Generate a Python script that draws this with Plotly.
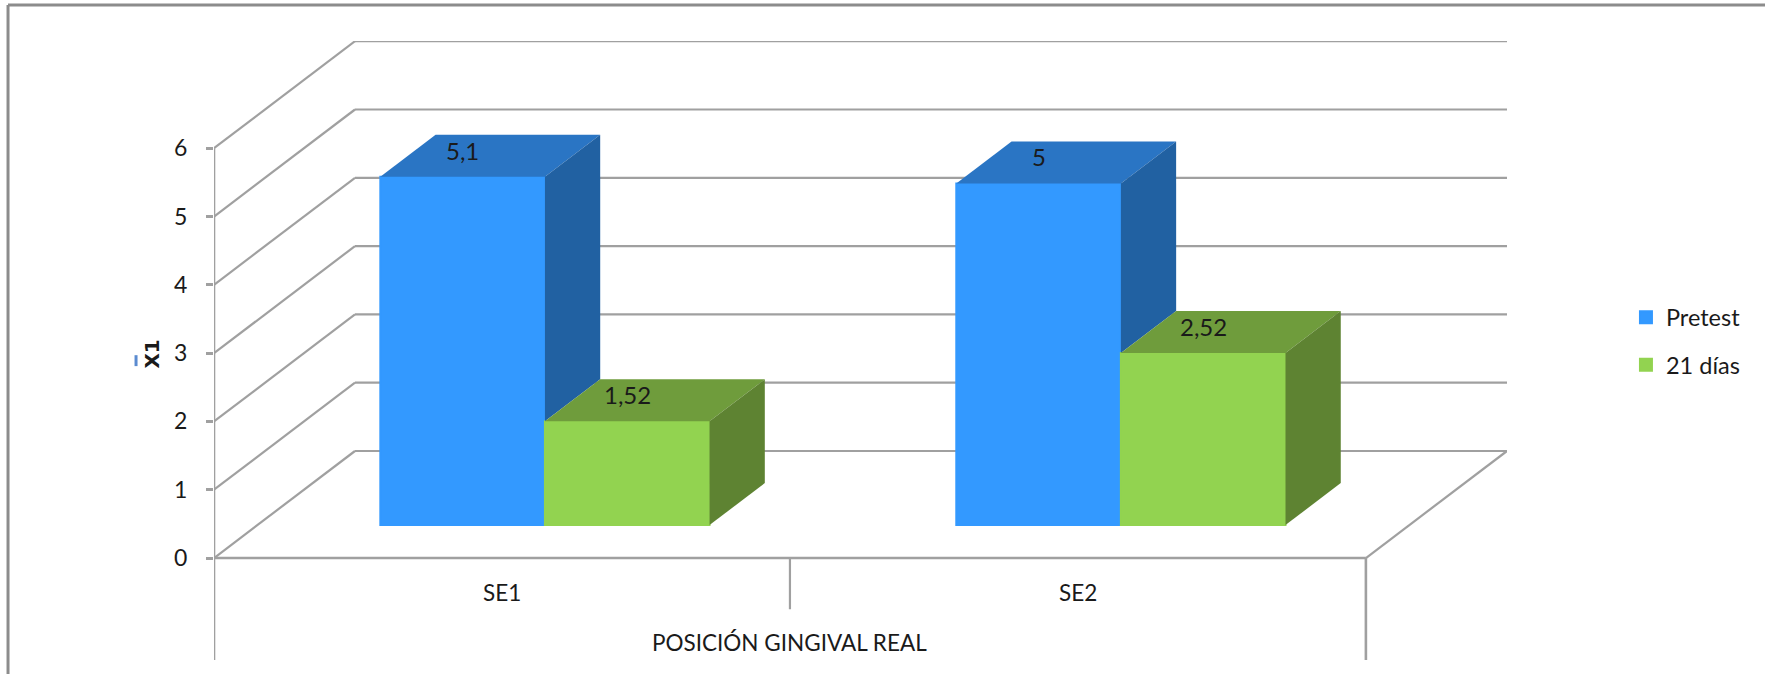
import plotly.graph_objects as go

# Chart values
categories = ["SE1", "SE2"]
series_names = ["Pretest", "21 días"]
pretest = [5.1, 5.0]
dias_21 = [1.52, 2.52]
y_ticks = [0, 1, 2, 3, 4, 5, 6]
axis_title = "POSICIÓN GINGIVAL REAL"

# Colours: front, top and side faces of each series
BLUE = ("#3399FF", "#2A75C4", "#2161A2")
GREEN = ("#92D350", "#6F9C3C", "#5E8332")
GRID = "#A0A0A0"
TEXT = "#1a1a1a"
FONT = "Lato, sans-serif"

# Oblique projection of the floor depth, in axis units
DEPTH_X = 0.2448
DEPTH_Y = 1.567
BAR_NEAR = 0.308          # depth fraction where the bars start
BAR_DEEP = 0.392          # depth fraction the bars occupy
BAR_WIDTH = 0.2858
BAR_NUDGE = -0.0008       # small leftward placement of the bar groups
Y_MAX, Y_MIN = 7.57, -1.493
X_MAX = 2.245


def grid_line(x0, y0, x1, y1, color=GRID, width=2.2):
    return dict(type="line", xref="x", yref="y", x0=x0, y0=y0, x1=x1, y1=y1,
                layer="below", line=dict(color=color, width=width))


shapes = []
# Wall gridlines and their diagonals running back from the value axis
for v in y_ticks:
    shapes.append(grid_line(0, v, DEPTH_X, v + DEPTH_Y))
    if v > 0:
        shapes.append(grid_line(DEPTH_X, v + DEPTH_Y, X_MAX, v + DEPTH_Y))
shapes.append(grid_line(DEPTH_X, DEPTH_Y, X_MAX, DEPTH_Y))
# Floor outline
shapes.append(grid_line(0, 0, 2, 0, width=2.6))
shapes.append(grid_line(2, 0, X_MAX, DEPTH_Y))
# Value axis and category separators
shapes.append(grid_line(0, Y_MIN, 0, y_ticks[-1], width=2.6))
shapes.append(grid_line(1, -0.75, 1, 0))
shapes.append(grid_line(2, Y_MIN, 2, 0, width=2.6))
# Outer frame of the chart area
frame = dict(type="line", xref="paper", yref="paper", line=dict(color="#8C8C8C", width=3))
shapes.append(dict(frame, x0=-0.1593, x1=1.211, y0=1.0581, y1=1.0581))
shapes.append(dict(frame, x0=-0.1593, x1=-0.1593, y0=-0.03, y1=1.0581))
# Bar over the X of the value axis title
shapes.append(dict(type="line", xref="paper", yref="y", x0=-0.0603, x1=-0.0603, y0=2.97, y1=2.81,
                   line=dict(color="#5B8BD0", width=3)))

fig = go.Figure()
base = BAR_NEAR * DEPTH_Y
bar_dx = BAR_DEEP * DEPTH_X
bar_dy = BAR_DEEP * DEPTH_Y
shift = BAR_NEAR * DEPTH_X + BAR_NUDGE

annotations = []
for s, (name, values, colors) in enumerate(zip(series_names, (pretest, dias_21), (BLUE, GREEN))):
    centers = [i + 0.5 + shift + (s - 0.5) * BAR_WIDTH for i in range(len(categories))]
    fig.add_trace(go.Bar(
        x=centers, y=values, base=base, width=BAR_WIDTH, name=name,
        marker=dict(color=colors[0], line=dict(width=2, color=colors[0])),
        legendgroup=name, hoverinfo="y",
    ))
    for i, (c, v) in enumerate(zip(centers, values)):
        left, right = c - BAR_WIDTH / 2, c + BAR_WIDTH / 2
        top = base + v
        # Top face
        fig.add_trace(go.Scatter(
            x=[left, right, right + bar_dx, left + bar_dx, left],
            y=[top, top, top + bar_dy, top + bar_dy, top],
            mode="lines", line=dict(width=0), fill="toself", fillcolor=colors[1],
            showlegend=False, hoverinfo="skip",
        ))
        # Side face, visible only above the neighbouring shorter bar
        floor = base + (dias_21[i] if s == 0 else 0)
        fig.add_trace(go.Scatter(
            x=[right, right + bar_dx, right + bar_dx, right, right],
            y=[top, top + bar_dy, floor + bar_dy, floor, top],
            mode="lines", line=dict(width=0), fill="toself", fillcolor=colors[2],
            showlegend=False, hoverinfo="skip",
        ))
        annotations.append(dict(
            x=c, y=top + 0.39, xref="x", yref="y", showarrow=False,
            text=f"{v:g}".replace(".", ","), font=dict(size=24, color=TEXT, family=FONT),
        ))

# Category labels and axis name beneath the floor
for i, cat in enumerate(categories):
    annotations.append(dict(x=i + 0.5, y=-0.51, xref="x", yref="y", showarrow=False,
                            text=cat, font=dict(size=22.5, color=TEXT, family=FONT)))
annotations.append(dict(x=1, y=-1.24, xref="x", yref="y", showarrow=False,
                        text=axis_title, font=dict(size=22.5, color=TEXT, family=FONT)))
# Value axis title
annotations.append(dict(x=-0.0483, y=2.987, xref="paper", yref="y", showarrow=False, textangle=-90,
                        xanchor="center", yanchor="middle",
                        text="<b>X1</b>", font=dict(size=20, color=TEXT, family="DejaVu Sans")))

fig.update_layout(
    width=1765, height=674,
    margin=dict(l=214, r=258, t=41, b=14),
    paper_bgcolor="white", plot_bgcolor="rgba(0,0,0,0)",
    barmode="overlay",
    shapes=shapes, annotations=annotations,
    font=dict(family=FONT, color=TEXT),
    xaxis=dict(range=[0, X_MAX], visible=False, fixedrange=True),
    yaxis=dict(
        range=[Y_MIN, Y_MAX], tickvals=y_ticks, ticktext=[str(t) for t in y_ticks],
        ticks="outside", ticklen=7, tickwidth=3, tickcolor=GRID, ticklabelstandoff=14,
        showgrid=False, zeroline=False, showline=False,
        tickfont=dict(size=23, color=TEXT, family=FONT), fixedrange=True,
    ),
    legend=dict(
        x=1.092, y=0.589, xanchor="left", yanchor="top",
        tracegroupgap=14, font=dict(size=23.5, color=TEXT, family=FONT),
        itemclick=False, itemdoubleclick=False,
    ),
    showlegend=True,
)

fig.write_html("out.html")
